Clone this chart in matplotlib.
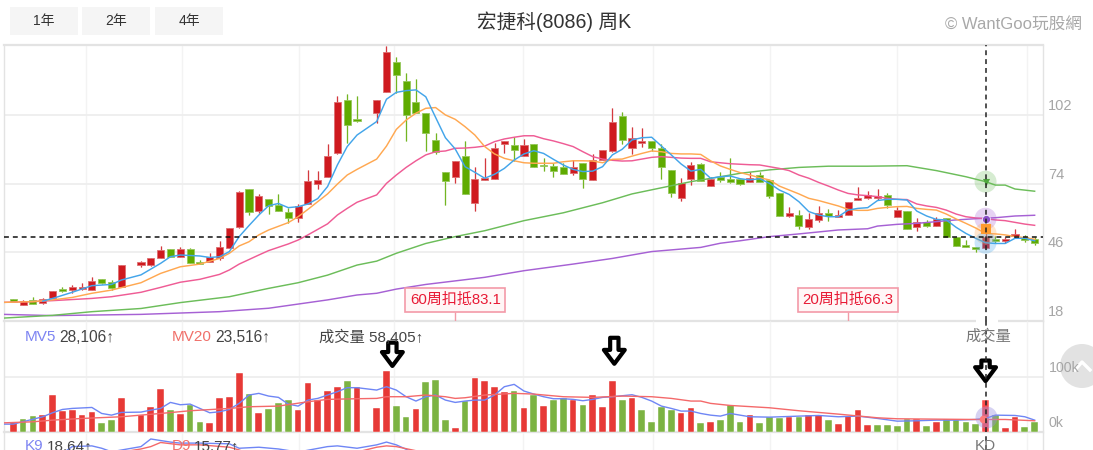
import numpy as np
import matplotlib
matplotlib.use("Agg")
import matplotlib.pyplot as plt
from matplotlib.patches import FancyArrowPatch, Rectangle, Circle

plt.rcParams['font.family'] = ['Liberation Sans', 'Noto Sans CJK TC', 'DejaVu Sans']

W, H = 1093, 450
nan = float('nan')

title = "宏捷科(8086) 周K"
brand = "© WantGoo玩股網"
range_buttons = ["1年", "2年", "4年"]
price_ticks = [18, 46, 74, 102]
volume_ticks = [0, 100]
grid_slots = [7.4, 17.2, 29.1, 38.8, 51.9, 65.1, 77.1, 90.0, 103.2]

candle_open = [27.1,24.6,26.7,25.5,27.2,31.2,30.8,31.2,30.8,35.2,33.8,31.7,nan,40.8,40.8,43.8,47.2,44.2,47.2,41.9,
 42.2,43.7,47.9,56.4,71.9,62.7,67.7,65.3,62.6,60.0,65.8,74.0,76.7,86.5,108.2,100.3,nan,102.7,111.2,123.4,
 115.8,107.4,102.9,91.6,78.6,76.7,85.4,66.0,75.3,75.9,90.1,89.7,85.4,90.3,81.6,81.2,80.8,78.5,82.3,75.3,
 83.6,87.4,101.4,88.4,90.4,91.2,88.5,79.5,68.1,75.7,82.0,73.2,76.8,76.0,75.9,74.8,77.4,75.5,70.0,60.8,
 61.1,56.3,59.2,62.0,60.5,61.3,67.2,68.0,68.0,69.2,60.5,62.8,56.3,58.5,56.9,59.8,52.2,49.1,48.2,47.8,
 51.4,50.7,52.6,52.4,51.3]
candle_close = [25.7,26.1,25.0,27.1,30.4,30.4,31.7,32.0,34.2,33.5,31.3,41.0,nan,41.9,43.7,46.8,44.2,47.2,41.8,41.2,
 44.1,48.2,55.8,70.6,62.3,68.8,65.0,62.8,60.1,64.7,74.9,75.5,85.4,107.4,97.8,99.5,nan,108.1,127.5,118.4,
 101.8,102.7,94.8,86.9,75.2,83.1,69.6,76.0,76.2,88.5,91.2,87.6,89.9,80.8,81.0,79.0,78.1,80.8,75.7,83.5,
 87.6,99.1,91.6,92.5,91.2,88.7,80.8,70.0,74.1,81.7,74.9,75.9,75.5,74.5,74.0,76.4,74.8,68.8,60.9,62.0,
 56.9,59.4,61.9,60.8,61.3,66.5,68.3,69.2,69.0,65.4,63.1,55.6,58.4,56.9,59.7,52.1,48.4,48.0,47.5,52.2,
 50.7,51.4,53.5,51.1,49.8]
candle_high = [27.1,26.7,27.9,27.5,30.4,31.7,32.5,33.3,35.8,35.2,34.7,41.0,nan,42.6,43.7,48.7,47.2,48.3,47.6,42.9,
 45.6,50.5,55.8,71.0,71.9,69.8,67.7,69.8,64.2,65.7,79.5,79.1,90.0,109.7,110.5,109.7,nan,108.1,130.1,125.5,
 119.0,116.5,102.9,94.8,78.6,83.1,91.2,80.9,84.4,90.7,91.2,92.9,92.0,90.3,84.6,82.5,82.5,83.6,82.3,85.9,
 87.6,104.7,103.1,96.9,96.7,91.2,90.1,79.5,76.2,82.7,82.5,76.8,78.6,84.4,75.9,78.6,78.6,75.5,70.0,64.3,
 63.2,61.9,64.9,63.8,63.2,66.5,72.5,71.1,71.7,70.3,64.3,62.8,59.8,59.2,60.3,59.8,52.2,51.0,48.2,55.8,
 52.6,52.4,55.4,52.9,52.4]
candle_low = [25.7,24.6,25.0,25.0,27.2,30.0,29.3,30.6,30.8,32.9,30.6,31.7,nan,39.9,40.4,43.8,44.2,44.2,41.8,41.2,
 42.2,43.0,47.9,56.0,61.3,62.2,61.7,62.8,58.1,58.5,65.8,71.7,76.7,85.9,90.4,99.0,nan,98.6,111.2,110.8,
 91.5,102.7,87.4,85.9,65.4,74.4,69.6,62.7,75.3,75.9,86.3,83.4,85.4,80.8,79.0,76.8,78.1,77.5,72.1,75.3,
 83.6,87.0,90.1,85.9,89.1,87.3,75.7,68.7,67.0,73.6,74.9,73.2,74.8,74.1,73.4,74.8,74.8,68.0,60.9,60.3,
 55.4,55.4,58.4,58.9,60.5,61.3,67.2,67.6,67.3,64.1,60.5,55.6,54.7,56.5,56.9,52.1,48.4,48.0,46.1,47.2,
 49.7,49.9,51.8,50.1,49.1]

ma5_slot = [3,4,6,8,10,11,13,15,16,17,19,20,21,22,23,24,25,26,27,28,29,30,31,32,33,34,35,37,38,39,40,41,42,43,44,45,46,47,48,49,50,
 51,52,53,54,55,56,57,58,59,60,61,62,63,64,65,66,67,68,69,70,71,72,73,74,75,76,77,78,79,80,81,82,83,84,85,86,87,88,89,90,
 91,92,93,94,95,96,97,98,99,100,101,102,103,104]
ma5 = [26.1,27.2,29.7,32.4,32.9,34.7,36.8,41.5,44.2,44.9,44.5,43.9,44.2,46.3,52.4,56.9,61.2,65.0,65.9,64.2,64.6,65.7,67.9,72.8,81.6,89.1,93.8,
 99.3,108.4,111.2,111.9,112.2,109.4,101.0,92.7,88.1,80.9,78.6,76.2,77.8,80.2,83.6,86.1,87.4,86.3,83.9,81.6,79.8,78.9,79.1,80.9,85.7,88.0,91.8,92.7,92.9,
 89.3,85.7,82.0,79.1,79.8,76.2,76.8,77.1,76.0,75.5,76.0,74.1,71.4,69.6,66.6,62.6,61.2,60.5,60.5,63.2,63.9,64.2,67.1,67.6,67.6,67.3,62.8,60.8,59.4,59.2,
 56.2,53.7,51.7,49.9,49.6,49.6,51.7,51.7,50.7]

ma10_slot = [-0.95,2,4,6,8,10,13,15,17,19,21,22,23,24,25,26,28,29,30,32,33,34,35,37,38,39,40,41,42,43,44,45,46,47,48,49,50,51,52,53,55,56,57,58,59,60,
 61,62,63,64,65,66,67,68,69,70,71,72,73,74,75,76,77,78,79,80,81,82,83,84,85,86,87,88,89,90,91,92,93,94,95,96,97,98,99,100,101,102,103,104]
ma10 = [25.6,25.9,26.6,27.6,29.3,30.6,33.6,37.4,40.1,41.2,43.5,45.6,48.6,50.3,53.1,55.1,58.1,60.5,63.5,69.8,73.8,77.5,79.8,84.0,89.3,96.1,99.9,102.7,104.7,105.0,
 102.0,100.2,97.2,93.8,89.1,86.1,84.3,83.3,82.5,82.3,82.3,82.9,83.3,83.3,83.2,82.5,83.9,84.0,85.2,86.3,87.3,87.0,86.3,86.1,86.1,85.9,83.3,81.2,79.8,78.5,77.5,76.4,75.5,
 73.0,71.4,69.8,68.0,67.1,66.0,64.9,63.5,63.1,63.1,63.9,64.3,64.6,64.7,63.9,63.5,63.2,61.6,59.6,57.8,55.9,53.7,53.5,53.1,52.4,52.0,51.3]

ma20_slot = [-0.95,2,4,8,10,13,15,17,19,21,22,23,25,26,28,29,30,32,33,34,35,37,38,39,40,41,42,43,44,45,46,47,48,49,50,51,52,53,54,55,56,57,58,59,60,
 61,62,63,64,65,66,67,68,69,70,71,72,73,74,75,76,77,78,79,80,81,82,83,84,85,86,87,88,89,90,91,92,93,94,95,96,97,98,99,100,101,102,103,104]
ma20 = [25.6,25.9,26.3,27.2,27.9,29.7,31.7,33.8,35.0,37.0,38.8,41.2,44.9,46.7,49.4,51.0,53.1,57.6,61.2,63.9,66.4,69.4,74.1,77.5,80.6,83.3,85.7,87.0,87.3,88.4,88.5,88.8,
 89.3,91.1,92.2,92.9,93.5,93.5,92.3,91.4,90.3,89.1,87.0,85.0,84.0,83.5,83.2,83.3,84.0,84.7,85.0,84.7,84.4,84.3,84.3,82.9,82.5,82.1,81.9,81.7,81.6,80.9,80.2,79.3,77.5,76.2,
 74.5,73.0,71.4,70.0,69.4,69.1,68.7,68.0,67.6,67.5,65.7,64.9,64.3,63.2,61.6,60.5,60.0,59.7,59.2,58.9,58.2,57.5,57.0]

ma60_slot = [-0.95,4,8,13,17,22,26,29,32,35,37,39,42,45,48,52,56,60,63,66,69,72,74,77,80,83,87,91,94,97,99,100,101,102,104]
ma60 = [19.2,20.3,21.8,23.1,25.5,27.9,31.3,33.6,36.7,40.8,42.4,45.6,49.6,52.4,54.8,58.9,62.1,66.2,69.8,72.3,74.8,76.8,78.2,79.6,80.6,81.1,81.1,81.3,79.3,76.8,74.8,73.4,73.4,71.8,70.9]

ma120_slot = [-0.95,4,13,21,26,29,32,35,37,39,42,48,52,57,61,65,70,72,74,77,80,84,87,88,90,92,94,96,98,100,102,104]
ma120 = [20.7,20.2,20.7,21.8,23.2,24.9,26.6,28.6,29.3,31.0,32.9,35.8,38.5,41.2,43.5,46.3,48.0,49.7,50.7,52.4,53.5,55.1,55.6,56.7,57.4,57.8,58.5,59.2,59.7,60.1,60.8,61.1]

volume_k = [16.7,22.8,28.4,30.2,67.3,37.0,38.9,30.2,36.4,16.0,20.4,61.1,nan,30.2,45.1,77.8,38.9,32.7,48.1,17.9,16.0,61.1,63.6,107.4,69.1,34.6,40.7,53.1,57.4,38.9,
 89.5,58.6,75.3,81.5,93.2,81.5,nan,42.6,111.7,46.9,26.5,40.7,91.4,95.1,20.4,5.6,56.2,99.4,93.2,81.5,73.5,75.3,42.6,67.3,46.9,58.6,61.1,58.6,48.8,67.3,
 45.1,93.2,58.6,61.1,38.9,17.9,45.1,38.9,34.6,42.6,16.0,17.9,20.4,48.8,17.9,30.2,16.0,26.5,24.1,26.5,26.5,30.2,30.2,20.4,14.2,29.0,38.9,11.7,11.7,11.7,
 9.9,22.2,22.2,9.9,17.9,22.2,20.4,17.9,14.2,57.4,30.2,5.6,26.5,8.0,17.9]
volume_up = [1,0,0,1,1,1,1,1,1,0,0,1,0,1,1,1,0,1,0,0,1,1,1,1,0,1,0,0,0,1,
 1,1,1,1,0,1,0,1,1,0,0,1,0,0,0,1,0,1,1,1,1,0,1,0,1,0,0,1,0,1,
 1,1,0,1,0,0,0,0,1,1,0,1,0,0,0,1,0,0,0,1,0,1,1,0,1,1,1,1,0,0,
 0,0,1,0,1,0,0,0,0,1,0,1,1,0,0]

mv5_slot = [-0.95,0,3,4,5,6,8,9,10,11,13,14,15,16,17,18,19,20,21,22,23,24,25,26,27,28,29,30,31,32,33,34,35,37,38,39,40,41,42,43,44,45,46,47,48,49,50,
 51,52,53,54,55,56,57,58,59,60,61,62,63,64,65,66,67,68,69,70,71,72,73,74,75,77,80,82,84,86,88,90,92,94,96,98,99,100,102,103,104]
mv5 = [13.6,13.6,27.2,34.6,40.7,42.6,44.4,33.3,30.2,35.2,35.8,39.5,42.6,53.7,49.4,50.6,42.6,34.6,36.4,40.7,51.9,67.3,70.4,65.4,63.0,50.6,46.9,58.0,61.1,67.3,73.5,80.9,80.9,
 76.5,82.7,76.5,64.2,56.2,64.2,67.3,58.0,53.7,56.2,58.0,58.0,67.3,82.7,87.0,74.7,69.1,64.2,60.5,60.5,59.3,56.8,59.3,63.0,64.2,66.0,67.9,63.0,56.2,46.9,42.6,37.7,37.7,33.3,30.2,28.4,
 33.3,30.2,27.2,26.5,28.4,29.6,27.2,28.4,24.1,19.1,19.8,21.0,21.0,22.2,24.1,30.2,29.6,27.2,21.0]
mv20_slot = [-0.95,2,4,7,11,15,18,22,24,27,30,32,35,37,38,40,42,44,45,46,48,51,53,56,59,62,65,67,69,70,71,73,77,80,84,88,90,94,98,101,104]
mv20 = [16.0,17.9,21.0,24.1,27.2,33.3,38.3,42.6,45.7,46.9,54.9,59.3,60.5,61.1,64.2,64.2,67.3,64.2,61.1,62.3,67.3,70.4,69.1,64.2,63.0,65.4,64.2,61.1,56.2,56.2,51.9,48.1,43.8,38.3,32.1,25.3,23.5,22.8,22.2,22.2,19.8]

k_slot = [5,6,8,9,10,13,14,16,17,19,22,23,25,27,29,32,33,35,37,38,39,40,41]
k_val = [79.7,86.3,87.0,84.7,81.3,86.3,93.7,90.7,89.7,89.7,89.0,84.7,85.7,84.0,81.0,86.3,87.0,84.7,88.0,90.7,88.0,83.7,79.7]
d_slot = [11,13,14,15,17,19,22,23,24,35,37,38,39,41,42]
d_val = [81.0,84.0,86.3,90.3,88.0,88.0,85.7,83.0,79.7,81.0,85.7,87.0,86.3,82.3,79.7]

crosshair_price = 52.4
crosshair_slot = 99
crosshair_ma = [74.8, 59.7, 53.7, 49.9]
offset_slots = [45, 85]
offset_labels = ["60周扣抵83.1", "20周扣抵66.3"]

RED, GREEN = '#cf1a1f', '#5fab00'
RED_EDGE, GREEN_EDGE = '#dd6f72', '#96c85c'
GRID = '#eeeeee'
BORDER = '#e3e3e3'
TXT = '#444444'
LABEL = '#a6a6a6'

fig = plt.figure(figsize=(W / 100, H / 100), dpi=100, facecolor='white')

def add_axes_px(left, top, right, bottom):
    return fig.add_axes([left / W, 1 - bottom / H, (right - left) / W, (bottom - top) / H])

def ftext(x, y, s, **kw):
    kw.setdefault('va', 'center')
    return fig.text(x / W, 1 - y / H, s, **kw)

# round scroll button, behind the axes
fig.add_artist(Circle((1082, H - 366), 22, transform=None, fc='#e2e2e2', ec='none', zorder=-2))
fig.add_artist(plt.Line2D([1075 / W, 1082 / W, 1090 / W], [1 - 370 / H, 1 - 362 / H, 1 - 370 / H],
                          color='white', lw=2.4, transform=fig.transFigure, zorder=-1))

xlim = (-0.947, 104.85)
ax = add_axes_px(4, 45, 1043, 321)
vax = add_axes_px(4, 321, 1043, 431.5)
kax = add_axes_px(4, 432.5, 1043, 450)

for a in (ax, vax, kax):
    a.set_xlim(*xlim)
    a.set_xticks([])
    a.set_yticks([])
    a.patch.set_alpha(0)
    a.vlines(grid_slots, 0, 1, transform=a.get_xaxis_transform(), color='#f3f3f3', lw=1, zorder=0)
    for side, sp in a.spines.items():
        sp.set_color(BORDER)
        sp.set_linewidth(1.0)
    a.spines['top'].set_visible(False)
    a.spines['bottom'].set_visible(False)

ax.set_ylim(18, 130.5)
vax.set_ylim(0, 204)
kax.set_ylim(83, 100)

# horizontal rules
ax.hlines(price_ticks[1:], *xlim, color=GRID, lw=1.3, zorder=0)
vax.hlines(100, *xlim, color=GRID, lw=1.3, zorder=0)
for a, yf in ((ax, 1), (ax, 0), (vax, 0)):
    a.plot([0, 1], [yf, yf], transform=a.transAxes, color=BORDER, lw=1.6, clip_on=False, zorder=1)

# candles
x = np.arange(len(candle_open))
o, c, hi, lo = map(np.array, (candle_open, candle_close, candle_high, candle_low))
up = c >= o
for mask, col, edge in ((up, RED, RED_EDGE), (~up, GREEN, GREEN_EDGE)):
    ax.vlines(x[mask], lo[mask], hi[mask], color=edge, lw=1.0, zorder=2)
    ax.vlines(x[mask], lo[mask], hi[mask], color=col, lw=0.45, zorder=2)
    ax.bar(x[mask], np.abs(c - o)[mask], bottom=np.minimum(o, c)[mask], width=0.72,
           color=col, edgecolor=edge, linewidth=0.6, zorder=3)

# moving averages
for xs, ys, col in ((ma120_slot, ma120, '#a661d4'), (ma60_slot, ma60, '#6cbd5a'),
                    (ma20_slot, ma20, '#ef5c95'), (ma10_slot, ma10, '#ffa851'),
                    (ma5_slot, ma5, '#43a5ea')):
    ax.plot(xs, ys, color=col, lw=1.05, zorder=4, solid_joinstyle='round')

# crosshair
ax.hlines(crosshair_price, *xlim, color='#111111', lw=1.1, linestyles=(0, (3.2, 2.6)), zorder=6)

# price tick labels
for t in price_ticks:
    ax.annotate(str(t), xy=(1, t), xycoords=('axes fraction', 'data'), xytext=(3.6, 6.4),
                textcoords='offset points', color=LABEL, fontsize=10.5, va='center', ha='left',
                annotation_clip=False)

# offset-price flags
for s, lab in zip(offset_slots, offset_labels):
    ax.vlines(s, 0, 9 / 276, transform=ax.get_xaxis_transform(), color='#f29aa6', lw=1, zorder=5)
    ax.text(s, 21 / 276, lab, transform=ax.get_xaxis_transform(), ha='center', va='center',
            fontsize=10.8, color='#e81a35', zorder=7,
            bbox=dict(boxstyle='square,pad=0.3', fc='#fff6f6', ec='#f39aa8', lw=1.2))

# markers on crosshair
ax.scatter([crosshair_slot] * 4, crosshair_ma,
           s=250, c=['#6cbd5a', '#a661d4', '#ffa851', '#43a5ea'], alpha=0.28, linewidths=0, zorder=5)
ax.scatter([crosshair_slot], [crosshair_ma[1]], s=34, c='#8a4fc8', edgecolors='white', linewidths=0.5, zorder=7)
ax.scatter([crosshair_slot], [crosshair_ma[0]], s=26, c='#4fa83d', marker='v', linewidths=0, zorder=7)
ax.scatter([crosshair_slot], [55.4], s=48, c='#ff9b2e', marker='s', linewidths=0, zorder=5)

# volume panel
vx = np.arange(len(volume_k))
vcol = ['#e73936' if u else '#7cb342' for u in volume_up]
vcol[crosshair_slot] = '#ff4c4c'
vax.bar(vx, volume_k, width=0.68, color=vcol, edgecolor='white', linewidth=0.3, zorder=2)
vax.plot(mv5_slot, mv5, color='#6f86f5', lw=1.0, zorder=3)
vax.plot(mv20_slot, mv20, color='#f4696a', lw=1.0, zorder=3)
vax.scatter([crosshair_slot], [27], s=250, c='#9a8fe0', alpha=0.4, linewidths=0, zorder=4)
vax.scatter([crosshair_slot - 0.25], [24], s=30, c='#ff7a7a', linewidths=0, zorder=4)

for t, lab in zip(volume_ticks, ("0k", "100k")):
    vax.annotate(lab, xy=(1, t), xycoords=('axes fraction', 'data'), xytext=(4.0, 6.4),
                 textcoords='offset points', color=LABEL, fontsize=10.2, va='center', ha='left',
                 annotation_clip=False, zorder=5)

# hand-drawn arrows
for sx, top, bot in ((38.6, 164, 121), (61.2, 173, 125), (99.0, 131, 93)):
    vax.add_patch(FancyArrowPatch((sx, top), (sx, bot),
                  arrowstyle='simple,head_length=10,head_width=15,tail_width=6',
                  mutation_scale=1, shrinkA=0, shrinkB=0, fc='white', ec='black', lw=3.0, zorder=8))

# KD panel
kax.plot(k_slot, k_val, color='#6f86f5', lw=1.0, zorder=3)
kax.plot(d_slot, d_val, color='#f4696a', lw=1.0, zorder=3)

for a in (ax, vax, kax):
    a.vlines(crosshair_slot, 0, 1, transform=a.get_xaxis_transform(), color='#222222', lw=1.1,
             linestyles=(0, (3.2, 2.6)), zorder=9)

# gap in the border around the crosshair
fig.add_artist(Rectangle((976 / W, 1 - 322.5 / H), 9 / W, 3.5 / H, transform=fig.transFigure, fc='white', ec='none'))
fig.add_artist(Rectangle((987 / W, 1 - 322.5 / H), 11 / W, 3.5 / H, transform=fig.transFigure, fc='white', ec='none'))

# header
for (l, r), lab in zip(((10, 78), (82, 150), (155, 223)), range_buttons):
    fig.add_artist(Rectangle((l / W, 1 - 35 / H), (r - l) / W, 28 / H, transform=fig.transFigure,
                             fc='#f5f5f5', ec='none'))
    ftext((l + r) / 2, 21.5, lab, ha='center', fontsize=10, color='#333333')
ftext(554, 22, title, ha='center', fontsize=14.1, color='#333333')
ftext(1082, 24, brand, ha='right', fontsize=12, color='#a8a8a8')

# volume legend
ftext(25, 337, "MV5", fontsize=11, color='#7d84f2')
ftext(59, 337, "28,106↑", fontsize=11.2, color=TXT)
ftext(172, 337, "MV20", fontsize=11, color='#f0706a')
ftext(215, 337, "23,516↑", fontsize=11.2, color=TXT)
ftext(319, 337, "成交量 58,405↑", fontsize=11, color=TXT)
ftext(965, 337, "成交量", fontsize=11, color='#777777')

# KD legend, cut by the lower edge as in the reference
ftext(25, 446.5, "K9", fontsize=11, color='#7d84f2')
ftext(47, 446.5, "18.64↑", fontsize=11, color=TXT)
ftext(172, 446.5, "D9", fontsize=11, color='#f0706a')
ftext(194, 446.5, "15.77↑", fontsize=11, color=TXT)
ftext(985.5, 446.5, "KD", ha='center', fontsize=11, color='#777777')

fig.savefig('out.png', dpi=100, facecolor='white')
